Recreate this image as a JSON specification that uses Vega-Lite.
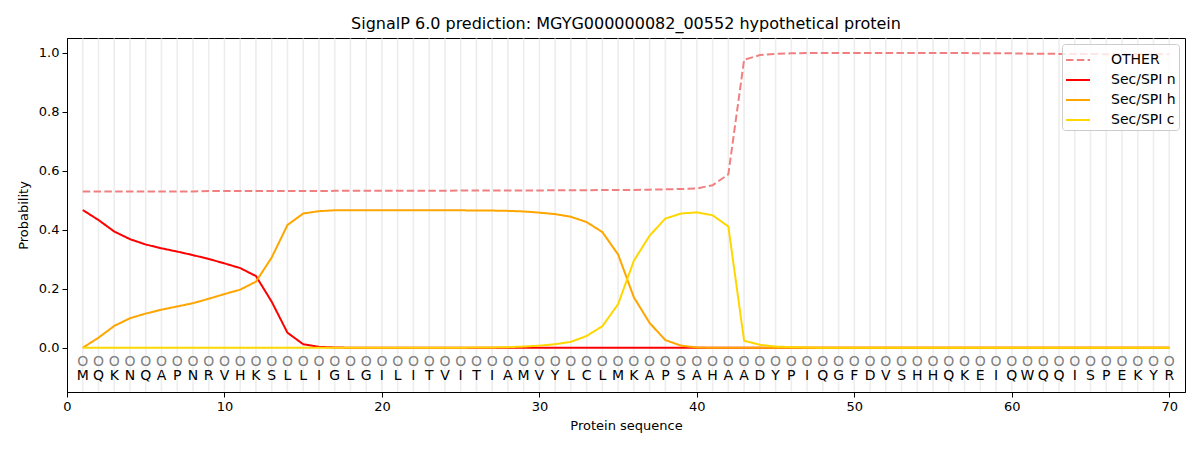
{
  "$schema": "https://vega.github.io/schema/vega-lite/v6.json",
  "width": 1118,
  "height": 354,
  "autosize": {"type": "none"},
  "padding": {"left": 67, "top": 38, "right": 15, "bottom": 58},
  "title": {"text": "SignalP 6.0 prediction: MGYG000000082_00552 hypothetical protein", "font": "DejaVu Sans", "fontSize": 16, "fontWeight": "normal", "color": "black", "offset": 6},
  "config": {
    "font": "DejaVu Sans",
    "view": {"stroke": "black", "strokeWidth": 1},
    "axis": {"labelFont": "DejaVu Sans", "titleFont": "DejaVu Sans", "labelFontSize": 13, "titleFontSize": 13, "titleFontWeight": "normal", "labelColor": "black", "titleColor": "black", "domainColor": "black", "tickColor": "black", "tickSize": 5, "grid": false, "labelFlush": false}
  },
  "data": {"values": [
    {"pos": 1, "aa": "M", "OTHER": 0.530, "Sec/SPI n": 0.467, "Sec/SPI h": 0.000, "Sec/SPI c": 0.000},
    {"pos": 2, "aa": "Q", "OTHER": 0.530, "Sec/SPI n": 0.433, "Sec/SPI h": 0.034, "Sec/SPI c": 0.000},
    {"pos": 3, "aa": "K", "OTHER": 0.530, "Sec/SPI n": 0.394, "Sec/SPI h": 0.074, "Sec/SPI c": 0.000},
    {"pos": 4, "aa": "N", "OTHER": 0.530, "Sec/SPI n": 0.368, "Sec/SPI h": 0.100, "Sec/SPI c": 0.000},
    {"pos": 5, "aa": "Q", "OTHER": 0.530, "Sec/SPI n": 0.350, "Sec/SPI h": 0.116, "Sec/SPI c": 0.000},
    {"pos": 6, "aa": "A", "OTHER": 0.530, "Sec/SPI n": 0.337, "Sec/SPI h": 0.129, "Sec/SPI c": 0.000},
    {"pos": 7, "aa": "P", "OTHER": 0.530, "Sec/SPI n": 0.326, "Sec/SPI h": 0.140, "Sec/SPI c": 0.000},
    {"pos": 8, "aa": "N", "OTHER": 0.530, "Sec/SPI n": 0.314, "Sec/SPI h": 0.151, "Sec/SPI c": 0.000},
    {"pos": 9, "aa": "R", "OTHER": 0.531, "Sec/SPI n": 0.301, "Sec/SPI h": 0.166, "Sec/SPI c": 0.000},
    {"pos": 10, "aa": "V", "OTHER": 0.531, "Sec/SPI n": 0.286, "Sec/SPI h": 0.182, "Sec/SPI c": 0.000},
    {"pos": 11, "aa": "H", "OTHER": 0.531, "Sec/SPI n": 0.270, "Sec/SPI h": 0.197, "Sec/SPI c": 0.000},
    {"pos": 12, "aa": "K", "OTHER": 0.531, "Sec/SPI n": 0.243, "Sec/SPI h": 0.224, "Sec/SPI c": 0.000},
    {"pos": 13, "aa": "S", "OTHER": 0.531, "Sec/SPI n": 0.156, "Sec/SPI h": 0.306, "Sec/SPI c": 0.000},
    {"pos": 14, "aa": "L", "OTHER": 0.531, "Sec/SPI n": 0.051, "Sec/SPI h": 0.416, "Sec/SPI c": 0.000},
    {"pos": 15, "aa": "L", "OTHER": 0.531, "Sec/SPI n": 0.012, "Sec/SPI h": 0.455, "Sec/SPI c": 0.000},
    {"pos": 16, "aa": "I", "OTHER": 0.531, "Sec/SPI n": 0.003, "Sec/SPI h": 0.463, "Sec/SPI c": 0.000},
    {"pos": 17, "aa": "G", "OTHER": 0.532, "Sec/SPI n": 0.001, "Sec/SPI h": 0.466, "Sec/SPI c": 0.000},
    {"pos": 18, "aa": "L", "OTHER": 0.532, "Sec/SPI n": 0.000, "Sec/SPI h": 0.466, "Sec/SPI c": 0.000},
    {"pos": 19, "aa": "G", "OTHER": 0.532, "Sec/SPI n": 0.000, "Sec/SPI h": 0.466, "Sec/SPI c": 0.000},
    {"pos": 20, "aa": "I", "OTHER": 0.532, "Sec/SPI n": 0.000, "Sec/SPI h": 0.466, "Sec/SPI c": 0.000},
    {"pos": 21, "aa": "L", "OTHER": 0.532, "Sec/SPI n": 0.000, "Sec/SPI h": 0.466, "Sec/SPI c": 0.000},
    {"pos": 22, "aa": "I", "OTHER": 0.532, "Sec/SPI n": 0.000, "Sec/SPI h": 0.466, "Sec/SPI c": 0.000},
    {"pos": 23, "aa": "T", "OTHER": 0.532, "Sec/SPI n": 0.000, "Sec/SPI h": 0.466, "Sec/SPI c": 0.000},
    {"pos": 24, "aa": "V", "OTHER": 0.532, "Sec/SPI n": 0.000, "Sec/SPI h": 0.466, "Sec/SPI c": 0.000},
    {"pos": 25, "aa": "I", "OTHER": 0.533, "Sec/SPI n": 0.000, "Sec/SPI h": 0.466, "Sec/SPI c": 0.000},
    {"pos": 26, "aa": "T", "OTHER": 0.533, "Sec/SPI n": 0.000, "Sec/SPI h": 0.465, "Sec/SPI c": 0.001},
    {"pos": 27, "aa": "I", "OTHER": 0.533, "Sec/SPI n": 0.000, "Sec/SPI h": 0.465, "Sec/SPI c": 0.001},
    {"pos": 28, "aa": "A", "OTHER": 0.533, "Sec/SPI n": 0.000, "Sec/SPI h": 0.464, "Sec/SPI c": 0.002},
    {"pos": 29, "aa": "M", "OTHER": 0.533, "Sec/SPI n": 0.000, "Sec/SPI h": 0.462, "Sec/SPI c": 0.004},
    {"pos": 30, "aa": "V", "OTHER": 0.533, "Sec/SPI n": 0.000, "Sec/SPI h": 0.458, "Sec/SPI c": 0.007},
    {"pos": 31, "aa": "Y", "OTHER": 0.534, "Sec/SPI n": 0.000, "Sec/SPI h": 0.453, "Sec/SPI c": 0.012},
    {"pos": 32, "aa": "L", "OTHER": 0.534, "Sec/SPI n": 0.000, "Sec/SPI h": 0.444, "Sec/SPI c": 0.020},
    {"pos": 33, "aa": "C", "OTHER": 0.534, "Sec/SPI n": 0.000, "Sec/SPI h": 0.426, "Sec/SPI c": 0.040},
    {"pos": 34, "aa": "L", "OTHER": 0.535, "Sec/SPI n": 0.000, "Sec/SPI h": 0.392, "Sec/SPI c": 0.073},
    {"pos": 35, "aa": "M", "OTHER": 0.535, "Sec/SPI n": 0.000, "Sec/SPI h": 0.316, "Sec/SPI c": 0.148},
    {"pos": 36, "aa": "K", "OTHER": 0.535, "Sec/SPI n": 0.000, "Sec/SPI h": 0.171, "Sec/SPI c": 0.295},
    {"pos": 37, "aa": "A", "OTHER": 0.536, "Sec/SPI n": 0.000, "Sec/SPI h": 0.084, "Sec/SPI c": 0.380},
    {"pos": 38, "aa": "P", "OTHER": 0.537, "Sec/SPI n": 0.000, "Sec/SPI h": 0.026, "Sec/SPI c": 0.438},
    {"pos": 39, "aa": "S", "OTHER": 0.538, "Sec/SPI n": 0.000, "Sec/SPI h": 0.007, "Sec/SPI c": 0.455},
    {"pos": 40, "aa": "A", "OTHER": 0.540, "Sec/SPI n": 0.000, "Sec/SPI h": 0.001, "Sec/SPI c": 0.459},
    {"pos": 41, "aa": "H", "OTHER": 0.551, "Sec/SPI n": 0.000, "Sec/SPI h": 0.000, "Sec/SPI c": 0.449},
    {"pos": 42, "aa": "A", "OTHER": 0.588, "Sec/SPI n": 0.000, "Sec/SPI h": 0.000, "Sec/SPI c": 0.411},
    {"pos": 43, "aa": "A", "OTHER": 0.976, "Sec/SPI n": 0.000, "Sec/SPI h": 0.000, "Sec/SPI c": 0.024},
    {"pos": 44, "aa": "D", "OTHER": 0.992, "Sec/SPI n": 0.000, "Sec/SPI h": 0.000, "Sec/SPI c": 0.010},
    {"pos": 45, "aa": "Y", "OTHER": 0.996, "Sec/SPI n": 0.000, "Sec/SPI h": 0.000, "Sec/SPI c": 0.004},
    {"pos": 46, "aa": "P", "OTHER": 0.998, "Sec/SPI n": 0.000, "Sec/SPI h": 0.000, "Sec/SPI c": 0.002},
    {"pos": 47, "aa": "I", "OTHER": 0.999, "Sec/SPI n": 0.000, "Sec/SPI h": 0.000, "Sec/SPI c": 0.001},
    {"pos": 48, "aa": "Q", "OTHER": 0.999, "Sec/SPI n": 0.000, "Sec/SPI h": 0.000, "Sec/SPI c": 0.000},
    {"pos": 49, "aa": "G", "OTHER": 0.999, "Sec/SPI n": 0.000, "Sec/SPI h": 0.000, "Sec/SPI c": 0.000},
    {"pos": 50, "aa": "F", "OTHER": 0.999, "Sec/SPI n": 0.000, "Sec/SPI h": 0.000, "Sec/SPI c": 0.000},
    {"pos": 51, "aa": "D", "OTHER": 0.999, "Sec/SPI n": 0.000, "Sec/SPI h": 0.000, "Sec/SPI c": 0.000},
    {"pos": 52, "aa": "V", "OTHER": 0.999, "Sec/SPI n": 0.000, "Sec/SPI h": 0.000, "Sec/SPI c": 0.000},
    {"pos": 53, "aa": "S", "OTHER": 0.999, "Sec/SPI n": 0.000, "Sec/SPI h": 0.000, "Sec/SPI c": 0.000},
    {"pos": 54, "aa": "H", "OTHER": 0.999, "Sec/SPI n": 0.000, "Sec/SPI h": 0.000, "Sec/SPI c": 0.000},
    {"pos": 55, "aa": "H", "OTHER": 0.999, "Sec/SPI n": 0.000, "Sec/SPI h": 0.000, "Sec/SPI c": 0.000},
    {"pos": 56, "aa": "Q", "OTHER": 0.999, "Sec/SPI n": 0.000, "Sec/SPI h": 0.000, "Sec/SPI c": 0.000},
    {"pos": 57, "aa": "K", "OTHER": 0.999, "Sec/SPI n": 0.000, "Sec/SPI h": 0.000, "Sec/SPI c": 0.000},
    {"pos": 58, "aa": "E", "OTHER": 0.998, "Sec/SPI n": 0.000, "Sec/SPI h": 0.000, "Sec/SPI c": 0.000},
    {"pos": 59, "aa": "I", "OTHER": 0.998, "Sec/SPI n": 0.000, "Sec/SPI h": 0.000, "Sec/SPI c": 0.000},
    {"pos": 60, "aa": "Q", "OTHER": 0.998, "Sec/SPI n": 0.000, "Sec/SPI h": 0.000, "Sec/SPI c": 0.000},
    {"pos": 61, "aa": "W", "OTHER": 0.997, "Sec/SPI n": 0.000, "Sec/SPI h": 0.000, "Sec/SPI c": 0.000},
    {"pos": 62, "aa": "Q", "OTHER": 0.997, "Sec/SPI n": 0.000, "Sec/SPI h": 0.000, "Sec/SPI c": 0.000},
    {"pos": 63, "aa": "Q", "OTHER": 0.996, "Sec/SPI n": 0.000, "Sec/SPI h": 0.000, "Sec/SPI c": 0.000},
    {"pos": 64, "aa": "I", "OTHER": 0.996, "Sec/SPI n": 0.000, "Sec/SPI h": 0.000, "Sec/SPI c": 0.000},
    {"pos": 65, "aa": "S", "OTHER": 0.996, "Sec/SPI n": 0.000, "Sec/SPI h": 0.000, "Sec/SPI c": 0.000},
    {"pos": 66, "aa": "P", "OTHER": 0.995, "Sec/SPI n": 0.000, "Sec/SPI h": 0.000, "Sec/SPI c": 0.000},
    {"pos": 67, "aa": "E", "OTHER": 0.995, "Sec/SPI n": 0.000, "Sec/SPI h": 0.000, "Sec/SPI c": 0.000},
    {"pos": 68, "aa": "K", "OTHER": 0.995, "Sec/SPI n": 0.000, "Sec/SPI h": 0.000, "Sec/SPI c": 0.000},
    {"pos": 69, "aa": "Y", "OTHER": 0.995, "Sec/SPI n": 0.000, "Sec/SPI h": 0.000, "Sec/SPI c": 0.000},
    {"pos": 70, "aa": "R", "OTHER": 0.995, "Sec/SPI n": 0.000, "Sec/SPI h": 0.000, "Sec/SPI c": 0.000}
  ]},
  "layer": [
    {
      "mark": {"type": "rule", "color": "#ededed", "strokeWidth": 1.6},
      "encoding": {
        "x": {"field": "pos", "type": "quantitative", "scale": {"domain": [0, 71], "nice": false}},
        "y": {"datum": -0.148, "type": "quantitative", "scale": {"domain": [-0.15, 1.05], "nice": false, "zero": false}},
        "y2": {"datum": 1.048}
      }
    },
    {
      "transform": [{"fold": ["OTHER", "Sec/SPI n", "Sec/SPI h", "Sec/SPI c"], "as": ["series", "prob"]}],
      "mark": {"type": "line", "strokeWidth": 2},
      "encoding": {
        "x": {"field": "pos", "type": "quantitative", "scale": {"domain": [0, 71], "nice": false}, "axis": {"values": [0, 10, 20, 30, 40, 50, 60, 70], "title": "Protein sequence", "titlePadding": 6, "labelPadding": 3}},
        "y": {"field": "prob", "type": "quantitative", "scale": {"domain": [-0.15, 1.05], "nice": false, "zero": false}, "axis": {"values": [0, 0.2, 0.4, 0.6, 0.8, 1.0], "format": ".1f", "title": "Probability", "titlePadding": 8, "labelPadding": 3}},
        "color": {"field": "series", "type": "nominal", "scale": {"domain": ["OTHER", "Sec/SPI n", "Sec/SPI h", "Sec/SPI c"], "range": ["#f08080", "#ff0000", "#ffa500", "#ffd700"]},
          "legend": {"title": null, "orient": "top-right", "offset": 6, "symbolType": "stroke", "symbolSize": 576, "symbolStrokeWidth": 2, "labelFontSize": 14, "labelFont": "DejaVu Sans", "labelColor": "black", "labelOffset": 20, "rowPadding": -3, "padding": 3, "fillColor": "rgba(255,255,255,0.8)", "strokeColor": "#cccccc", "cornerRadius": 3}},
        "strokeDash": {"field": "series", "type": "nominal", "scale": {"domain": ["OTHER", "Sec/SPI n", "Sec/SPI h", "Sec/SPI c"], "range": [[7.5, 3.3], [1, 0], [1, 0], [1, 0]]}, "legend": null},
        "order": {"field": "pos"}
      }
    },
    {
      "mark": {"type": "text", "font": "DejaVu Sans", "fontSize": 14, "color": "#808080", "baseline": "middle", "align": "center"},
      "encoding": {
        "x": {"field": "pos", "type": "quantitative"},
        "y": {"datum": -0.047, "type": "quantitative"},
        "text": {"value": "O"}
      }
    },
    {
      "mark": {"type": "text", "font": "DejaVu Sans", "fontSize": 14, "color": "black", "baseline": "middle", "align": "center"},
      "encoding": {
        "x": {"field": "pos", "type": "quantitative"},
        "y": {"datum": -0.097, "type": "quantitative"},
        "text": {"field": "aa"}
      }
    }
  ]
}
